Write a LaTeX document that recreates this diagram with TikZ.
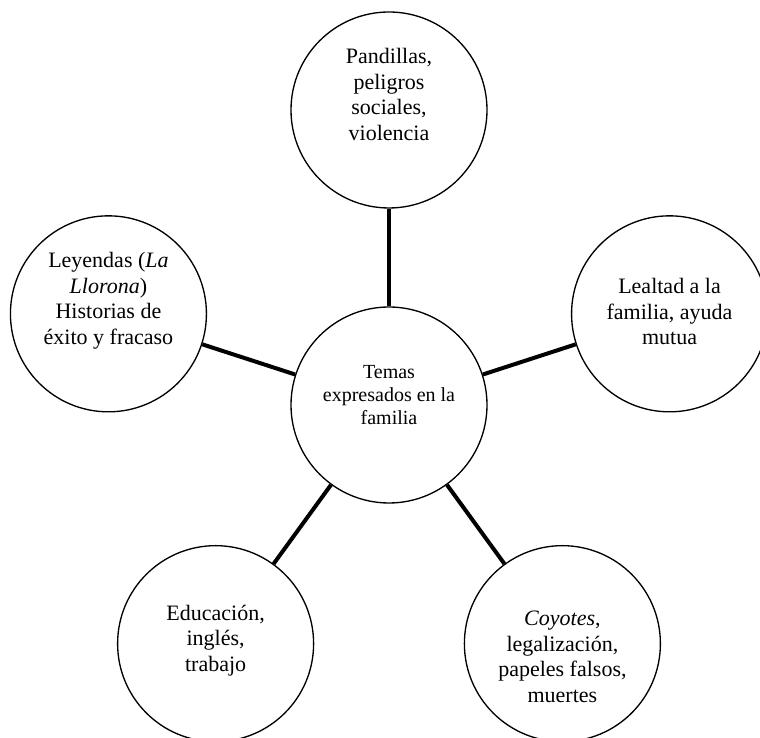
\documentclass[tikz,border=0pt]{standalone}
\usepackage{fontspec}
\setmainfont{Liberation Serif}
\usetikzlibrary{calc,positioning}
\tikzset{
	bubble/.style={
		draw, circle, line width=1pt,
		minimum size=147pt, inner sep=0pt
	},
	topic/.style={
		align=center, inner sep=0pt, text=black,
		font=\fontsize{16.5}{19.2}\selectfont
	},
	hubtext/.style={
		topic, font=\fontsize{15}{17.5}\selectfont
	},
	link/.style={line width=3pt}
}

\begin{document}
\begin{tikzpicture}[x=0.75pt,y=0.75pt]
				\useasboundingbox (0,0) rectangle (760,738);
				\node[bubble] (hub) at (389,333) {};
				\node[bubble] (gangs)   at ($(hub)+(90:295)$)  {};
				\node[bubble] (legends) at ($(hub)+(162:295)$) {};
				\node[bubble] (school)  at ($(hub)+(234:295)$) {};
				\node[bubble] (coyotes) at ($(hub)+(306:295)$) {};
				\node[bubble] (loyalty) at ($(hub)+(18:295)$)  {};
				\node[hubtext] (hub-txt) at ([yshift=7.5pt]hub) {Temas\\ expresados en la\\ familia};
				\node[topic] (gangs-txt) at ([yshift=11.6pt]gangs) {Pandillas,\\ peligros\\ sociales,\\ violencia};
				\node[topic] (legends-txt) at ([yshift=9.75pt]legends) {Leyendas (\textit{La}\\ \textit{Llorona})\\ Historias de\\ éxito y fracaso};
				\node[topic] (school-txt) at ([yshift=2.25pt]school) {Educación,\\ inglés,\\ trabajo};
				\node[topic] (coyotes-txt) at ([yshift=-9.75pt]coyotes) {\textit{Coyotes},\\ legalización,\\ papeles falsos,\\ muertes};
				\node[topic] (loyalty-txt) at ([yshift=1.5pt]loyalty) {Lealtad a la\\ familia, ayuda\\ mutua};
				\draw[link] (hub) -- (gangs);
				\draw[link] (hub) -- (legends);
				\draw[link] (hub) -- (school);
				\draw[link] (hub) -- (coyotes);
				\draw[link] (hub) -- (loyalty);
			\end{tikzpicture}
\end{document}
